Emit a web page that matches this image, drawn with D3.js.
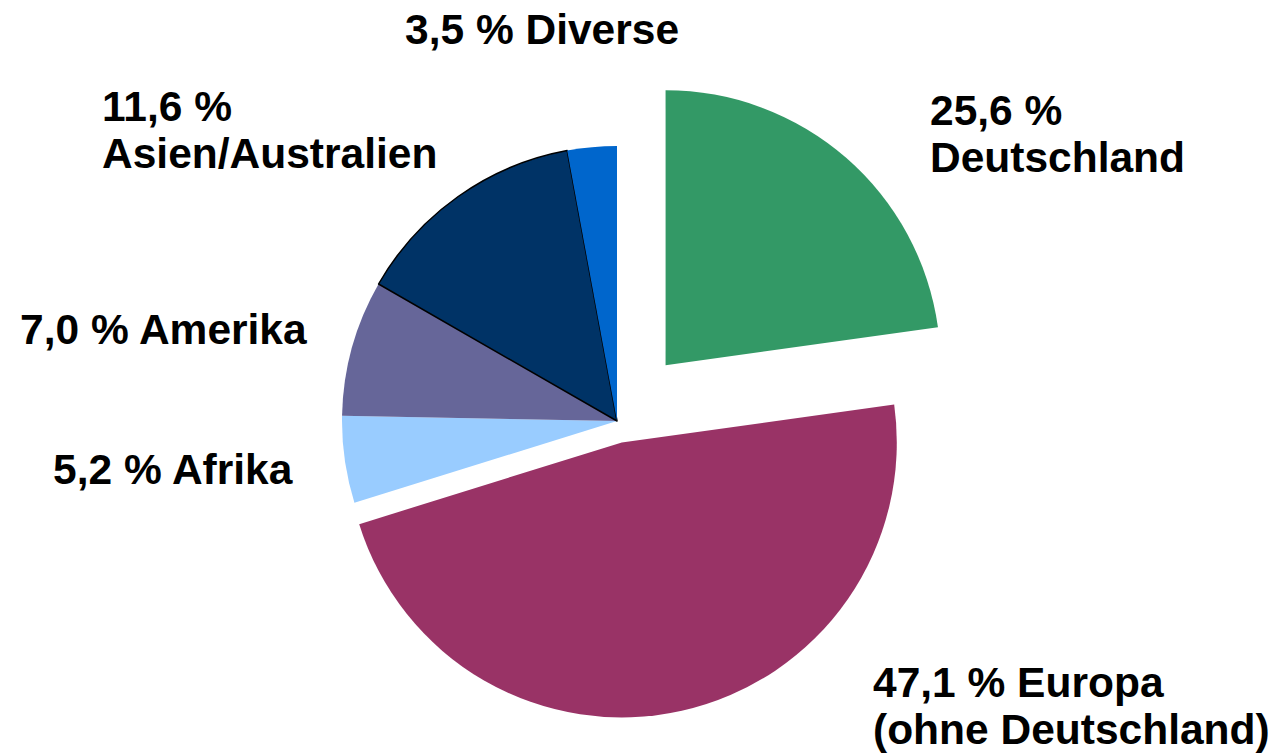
<!DOCTYPE html>
<html>
<head>
<meta charset="utf-8">
<script src="https://cdn.jsdelivr.net/npm/d3@7"></script>
<style>
  body { margin: 0; background: #fff; }
  svg text { font-family: "Liberation Sans", Arial, sans-serif; font-weight: bold; fill: #000; }
</style>
</head>
<body>
<div id="chart"></div>
<script>
// regions, clockwise from 12 o'clock
const regions = ["Deutschland", "Europa", "Afrika", "Amerika", "Asien", "Diverse"];
// slice shares as drawn in the picture (the printed labels differ a little)
const shares = [22.8, 47.4, 5.1, 8.0, 13.8, 2.9];
// label texts, one array of lines per region
const labelLines = [
  ["25,6 %", "Deutschland"],
  ["47,1 % Europa", "(ohne Deutschland)"],
  ["5,2 % Afrika"],
  ["7,0 % Amerika"],
  ["11,6 %", "Asien/Australien"],
  ["3,5 % Diverse"]
];
const colors = ["#339966", "#993366", "#99ccff", "#666699", "#003366", "#0066cc"];

const width = 1280, height = 755;
const cx = 617, cy = 421, radius = 275;
// how far each slice is pulled out of the pie
const explode = { Deutschland: 74, Europa: 22 };
// label anchor (left x, first baseline y)
const labelPos = {
  Deutschland: [930, 125],
  Europa: [873, 697],
  Afrika: [53, 484],
  Amerika: [20, 344],
  Asien: [102, 121],
  Diverse: [405, 44]
};
const lineHeight = 47;

const svg = d3.select("#chart").append("svg")
  .attr("width", width)
  .attr("height", height);

const data = regions.map((r, i) => ({ region: r, value: shares[i], lines: labelLines[i], color: colors[i] }));

const pie = d3.pie().sort(null).value(d => d.value);
const arc = d3.arc().innerRadius(0).outerRadius(radius);

const g = svg.append("g").attr("transform", `translate(${cx},${cy})`);

g.selectAll("path")
  .data(pie(data))
  .join("path")
  .attr("transform", d => {
    const off = explode[d.data.region] || 0;
    const a = (d.startAngle + d.endAngle) / 2;
    return `translate(${off * Math.sin(a)},${-off * Math.cos(a)})`;
  })
  .attr("d", arc)
  .attr("fill", d => d.data.color)
  .attr("stroke", d => d.data.region === "Asien" ? "#000" : "none")
  .attr("stroke-width", 1.5)
  .attr("stroke-linejoin", "round");

// *labels
const labels = svg.append("g").selectAll("text")
  .data(data)
  .join("text")
  .attr("x", d => labelPos[d.region][0])
  .attr("y", d => labelPos[d.region][1])
  .style("font-size", "42.5px");

labels.selectAll("tspan")
  .data(d => d.lines.map((t, i) => ({ t, i, x: labelPos[d.region][0] })))
  .join("tspan")
  .attr("x", d => d.x)
  .attr("dy", d => d.i === 0 ? 0 : lineHeight)
  .text(d => d.t);
</script>
</body>
</html>
